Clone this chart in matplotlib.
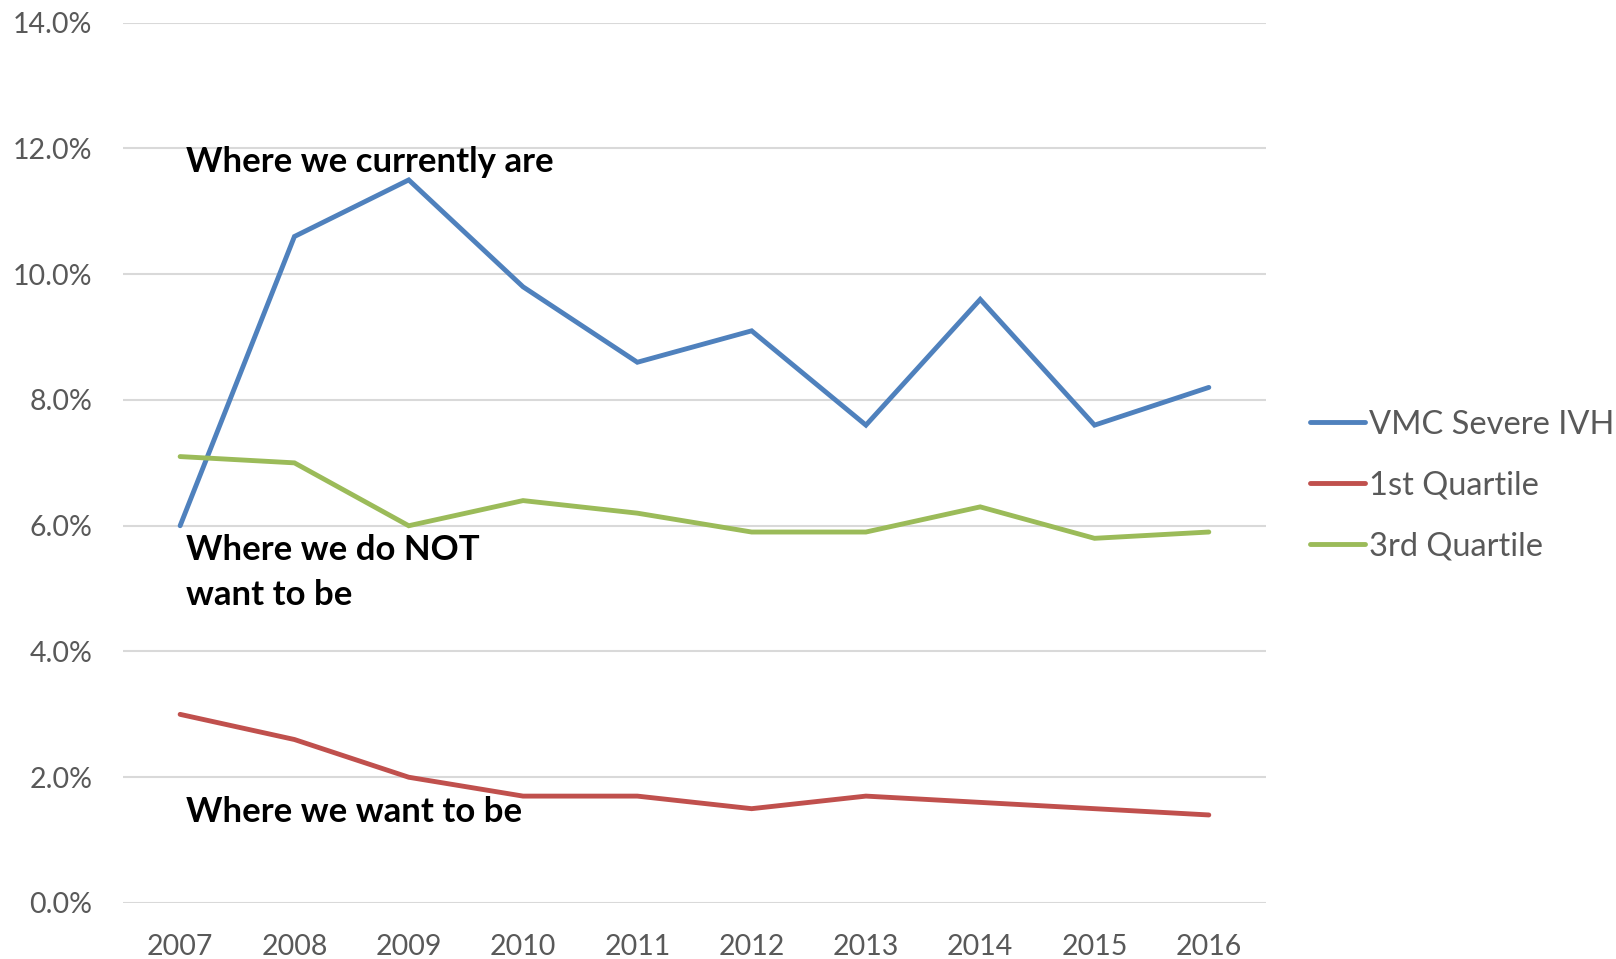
import matplotlib

matplotlib.use("Agg")
import matplotlib.pyplot as plt
from matplotlib.ticker import FuncFormatter

years = ["2007", "2008", "2009", "2010", "2011", "2012", "2013", "2014", "2015", "2016"]
vmc_severe_ivh = [6.0, 10.6, 11.5, 9.8, 8.6, 9.1, 7.6, 9.6, 7.6, 8.2]
first_quartile = [3.0, 2.6, 2.0, 1.7, 1.7, 1.5, 1.7, 1.6, 1.5, 1.4]
third_quartile = [7.1, 7.0, 6.0, 6.4, 6.2, 5.9, 5.9, 6.3, 5.8, 5.9]
y_ticks = [0, 2, 4, 6, 8, 10, 12, 14]

plt.rcParams["font.family"] = ["Lato", "DejaVu Sans"]

fig = plt.figure(figsize=(16.16, 9.59), dpi=100)
ax = fig.add_axes([0.0761, 0.0584, 0.7073, 0.9179])

x = range(len(years))
line_style = dict(lw=3.5, solid_capstyle="round", solid_joinstyle="miter")
ax.plot(x, vmc_severe_ivh, color="#4F81BD", label="VMC Severe IVH", **line_style)
ax.plot(x, first_quartile, color="#C0504D", label="1st Quartile", **line_style)
ax.plot(x, third_quartile, color="#9BBB59", label="3rd Quartile", **line_style)

ax.set_xlim(-0.5, len(years) - 0.5)
ax.set_ylim(0, 14)
ax.set_xticks(list(x), years)
ax.set_yticks(y_ticks)
ax.yaxis.set_major_formatter(FuncFormatter(lambda v, _: f"{v:.1f}%"))
ax.grid(axis="y", color="#D9D9D9", lw=1.5)
ax.set_axisbelow(True)
for spine in ax.spines.values():
    spine.set_visible(False)
ax.tick_params(axis="both", length=0, labelsize=20.5, labelcolor="#595959")
ax.tick_params(axis="y", pad=22)
ax.tick_params(axis="x", pad=22)

note = dict(fontsize=25, fontweight="bold", color="black", va="baseline", ha="left")
ax.text(0.05, 11.62, "Where we currently are", **note)
ax.text(0.05, 5.45, "Where we do NOT", **note)
ax.text(0.05, 4.74, "want to be", **note)
ax.text(0.05, 1.29, "Where we want to be", **note)

ax.legend(loc="center left", bbox_to_anchor=(1.027, 0.474), frameon=False,
          fontsize=23.5, labelcolor="#595959", handlelength=1.7,
          handletextpad=0.12, labelspacing=0.95, borderaxespad=0)

fig.savefig("out.png", dpi=100)
